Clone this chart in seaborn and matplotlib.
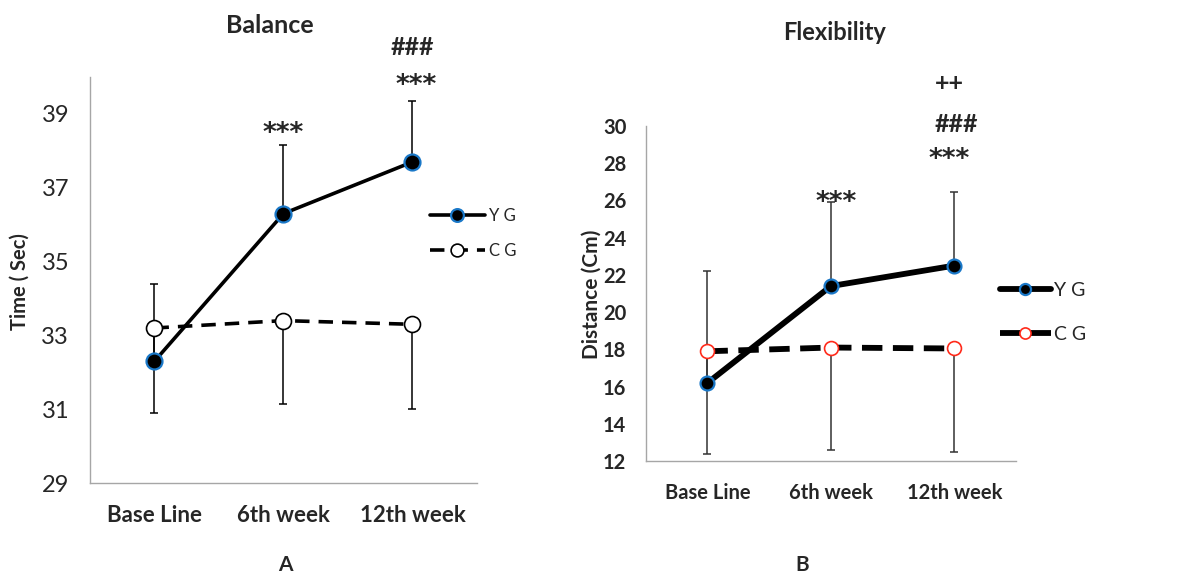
import numpy as np
import pandas as pd
import seaborn as sns
import matplotlib.pyplot as plt

sns.set_theme(style="white")
plt.rcParams['font.family'] = ['Lato', 'DejaVu Sans']

weeks = ["Base Line", "6th week", "12th week"]
groups = ["Y G", "C G"]

# Balance, time in seconds (Y G error bars go up, C G error bars go down)
bal_yg = [32.3, 36.3, 37.7]
bal_cg = [33.2, 33.4, 33.3]
bal_yg_err = [2.1, 1.85, 1.65]
bal_cg_err = [2.3, 2.25, 2.3]

# Flexibility, distance in cm
flex_yg = [16.2, 21.4, 22.5]
flex_cg = [17.9, 18.1, 18.05]
flex_yg_err = [6.0, 4.5, 3.95]
flex_cg_err = [5.5, 5.5, 5.55]

BLUE = "#1a78c8"
GRID = "#a6a6a6"
STAR = dict(ha="center", va="center", fontsize=19, family="DejaVu Sans",
            fontweight="bold", clip_on=False)
SIGN = dict(ha="center", va="center", fontsize=18, fontweight="bold", clip_on=False)


def panel(ax, yg, cg, yg_err, cg_err, lw, ms, cg_edge, dash, bar_col):
    x = np.arange(len(weeks))
    df = pd.DataFrame({
        "pos": np.tile(x, 2),
        "value": list(yg) + list(cg),
        "group": np.repeat(groups, len(weeks)),
    })
    ax.errorbar(x, yg, yerr=[np.zeros(3), yg_err], fmt="none", ecolor=bar_col,
                elinewidth=1.1, capsize=3, capthick=1.1, zorder=1)
    ax.errorbar(x, cg, yerr=[cg_err, np.zeros(3)], fmt="none", ecolor=bar_col,
                elinewidth=1.1, capsize=3, capthick=1.1, zorder=1)
    sns.lineplot(data=df[df.group == "Y G"], x="pos", y="value", ax=ax,
                 color="black", lw=lw, marker="o", ms=ms, mfc="black",
                 mec=BLUE, mew=1.6, errorbar=None, legend=False, zorder=3)
    l_yg = ax.lines[-1]
    sns.lineplot(data=df[df.group == "C G"], x="pos", y="value", ax=ax,
                 color="black", lw=lw, linestyle=(0, dash), marker="o", ms=ms,
                 mfc="white", mec=cg_edge, mew=1.2, errorbar=None, legend=False,
                 zorder=2)
    l_cg = ax.lines[-1]
    ax.set_xlim(-0.5, 2.5)
    ax.set_xticks(x, weeks)
    ax.set_xlabel("")
    ax.set_ylabel("")
    for s in ["top", "right"]:
        ax.spines[s].set_visible(False)
    for s in ["left", "bottom"]:
        ax.spines[s].set_color(GRID)
        ax.spines[s].set_linewidth(1)
    return l_yg, l_cg


fig = plt.figure(figsize=(11.87, 5.75), dpi=100)
axA = fig.add_axes([0.0758, 0.16, 0.326, 0.706])
axB = fig.add_axes([0.544, 0.198, 0.312, 0.583])

# ---- A: Balance
la = panel(axA, bal_yg, bal_cg, bal_yg_err, bal_cg_err, lw=2.6, ms=11.5,
           cg_edge="black", dash=(4, 2.5), bar_col="black")
axA.set_ylim(29, 40)
axA.set_yticks(np.arange(29, 40, 2))
axA.tick_params(axis="y", length=0, pad=15, labelsize=17)
axA.tick_params(axis="x", length=0, pad=16, labelsize=16)
for t in axA.get_xticklabels():
    t.set_fontweight("bold")
axA.text(1, 38.45, "***", **STAR)
axA.text(2.03, 39.75, "***", **STAR)
axA.text(2.0, 40.8, "###", **SIGN)
axA.legend(handles=list(la), labels=groups, loc="center left",
           bbox_to_anchor=(0.362, 0.594), bbox_transform=fig.transFigure,
           frameon=False, fontsize=12, handlelength=3.3, handletextpad=0.25,
           labelspacing=1.1, borderpad=0, borderaxespad=0, markerscale=0.8)

# ---- B: Flexibility
lb = panel(axB, flex_yg, flex_cg, flex_yg_err, flex_cg_err, lw=4.2, ms=10,
           cg_edge="#ff2a1a", dash=(3.5, 1.8), bar_col="#333333")
axB.set_ylim(12, 30)
axB.set_yticks(np.arange(12, 31, 2))
axB.tick_params(axis="y", length=0, pad=14, labelsize=14.5)
axB.tick_params(axis="x", length=0, pad=16, labelsize=14.5)
for t in axB.get_xticklabels() + axB.get_yticklabels():
    t.set_fontweight("bold")
axB.text(1.04, 25.85, "***", **STAR)
axB.text(1.96, 28.15, "***", **STAR)
axB.text(2.02, 30.1, "###", **SIGN)
axB.text(1.96, 32.3, "++", **SIGN)
axB.legend(handles=list(lb), labels=groups, loc="center left",
           bbox_to_anchor=(0.8425, 0.4565), bbox_transform=fig.transFigure,
           frameon=False, fontsize=14, handlelength=2.6, handletextpad=0.2,
           labelspacing=1.4, borderpad=0, borderaxespad=0, markerscale=0.8)

# titles, axis labels, panel letters
fig.text(0.2275, 0.955, "Balance", ha="center", va="center", fontsize=18, fontweight="bold")
fig.text(0.7035, 0.944, "Flexibility", ha="center", va="center", fontsize=17, fontweight="bold")
fig.text(0.0168, 0.51, "Time ( Sec)", rotation=90, ha="center", va="center", fontsize=14.5, fontweight="bold")
fig.text(0.4987, 0.489, "Distance (Cm)", rotation=90, ha="center", va="center", fontsize=15, fontweight="bold")
fig.text(0.240, 0.017, "A", ha="center", va="center", fontsize=15, fontweight="bold")
fig.text(0.6757, 0.017, "B", ha="center", va="center", fontsize=15, fontweight="bold")

fig.savefig("out.png", dpi=100)
